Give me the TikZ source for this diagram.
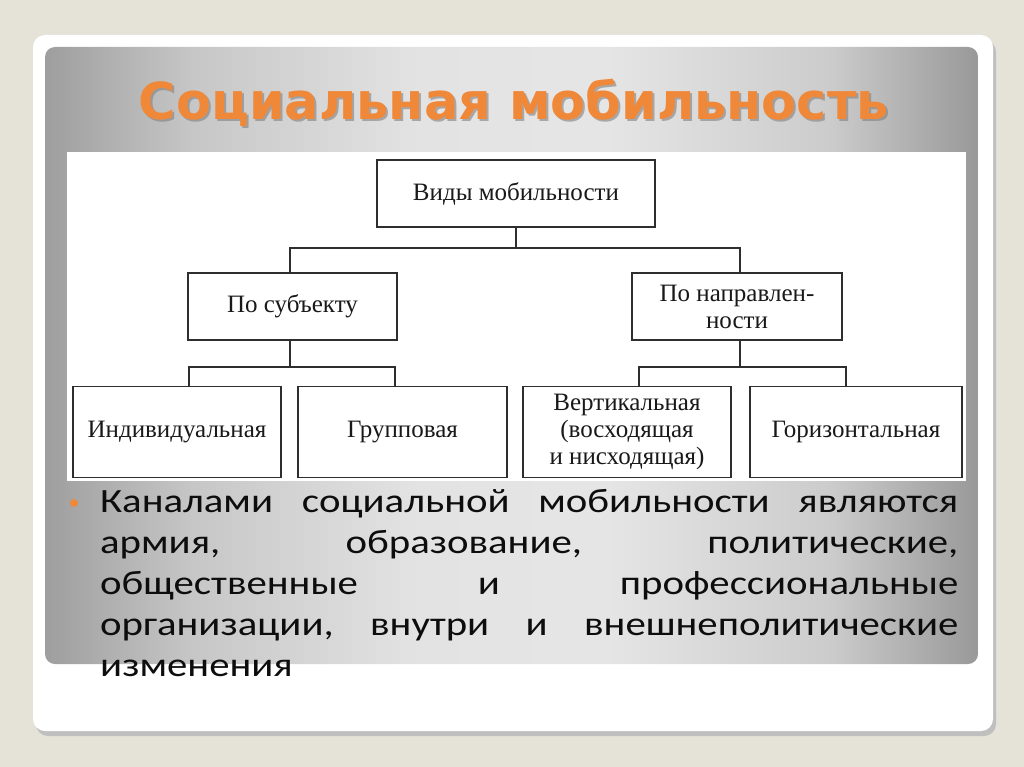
\documentclass[tikz,border=0pt]{standalone}
\usepackage{fontspec}
\setmainfont{Liberation Serif}
\newfontfamily\titlefont{DejaVu Sans}
\newfontfamily\bodyfont[FakeStretch=1.2]{Carlito}
\usetikzlibrary{shadings}
\definecolor{pagebg}{HTML}{E5E2D8}
\definecolor{orangetitle}{HTML}{F0883A}
\definecolor{boxline}{HTML}{2E2E2E}
\pgfdeclarehorizontalshading{panelshade}{100bp}{%
  color(0bp)=(black!38); color(25bp)=(black!38); color(33bp)=(black!22);
  color(45bp)=(black!11); color(55bp)=(black!10); color(67bp)=(black!20);
  color(75bp)=(black!40); color(100bp)=(black!40)}
\tikzset{
  box/.style={draw=boxline, line width=1.8pt, fill=white, align=center, inner sep=2pt,
    font=\fontsize{25}{27}\selectfont, text=black!90},
  link/.style={draw=boxline, line width=1.6pt}
}
\begin{document}
\begin{tikzpicture}[x=1pt,y=-1pt]
\useasboundingbox (0,0) rectangle (1024,767);
\fill[pagebg] (0,0) rectangle (1024,767);
% card shadow and card
\fill[black!25, rounded corners=12pt] (36,40) rectangle (996,736);
\fill[white, rounded corners=12pt] (33,35) rectangle (993,731);
% gray panel
\shade[rounded corners=10pt, shading=panelshade] (45,47) rectangle (978,664);
% title
\node[text=black!50, opacity=0.6] at (516,105) {\resizebox{750pt}{!}{\titlefont\bfseries Социальная мобильность}};
\node[text=orangetitle] (title) at (514,103) {\resizebox{750pt}{!}{\titlefont\bfseries Социальная мобильность}};
% diagram area
\fill[white] (67,152) rectangle (966,481);
\node[box, minimum width=278pt, minimum height=67pt] (vid) at (516,193.5) {Виды мобильности};
\node[box, minimum width=209pt, minimum height=67pt] (sub) at (292.5,306.5) {По субъекту};
\node[box, minimum width=210pt, minimum height=67pt] (napr) at (737,306.5) {По направлен-\\ности};
\node[box, minimum width=208pt, minimum height=91pt] (ind) at (177,432) {Индивидуальная};
\node[box, minimum width=209pt, minimum height=91pt] (grp) at (402.5,432) {Групповая};
\node[box, minimum width=208pt, minimum height=91pt] (ver) at (627,432) {Вертикальная\\(восходящая\\и нисходящая)};
\node[box, minimum width=212pt, minimum height=91pt] (hor) at (856,432) {Горизонтальная};
\coordinate (t) at ([yshift=-20]vid.south);
\draw[link] (vid.south) -- (t);
\draw[link] ([xshift=-2.5]sub.north) |- (t) -| ([xshift=3]napr.north);
\coordinate (l) at ([xshift=-2.5,yshift=-26]sub.south);
\draw[link] ([xshift=-2.5]sub.south) -- (l);
\draw[link] ([xshift=12]ind.north) |- (l) -| ([xshift=-7.5]grp.north);
\coordinate (r) at ([xshift=3,yshift=-26]napr.south);
\draw[link] ([xshift=3]napr.south) -- (r);
\draw[link] ([xshift=12]ver.north) |- (r) -| ([xshift=-10]hor.north);
% bullet text
\fill[orangetitle] (74,503) circle (4pt);
\node[anchor=north west, inner sep=0pt, text width=858pt, align=left, text=black!95,
  font=\bodyfont\fontsize{34}{41}\selectfont] (body) at (100,489) {%
\makebox[858pt][s]{Каналами\hfill социальной\hfill мобильности\hfill являются}\\
\makebox[858pt][s]{армия,\hfill образование,\hfill политические,}\\
\makebox[858pt][s]{общественные\hfill и\hfill профессиональные}\\
\makebox[858pt][s]{организации,\hfill внутри\hfill и\hfill внешнеполитические}\\
изменения};
\end{tikzpicture}
\end{document}
